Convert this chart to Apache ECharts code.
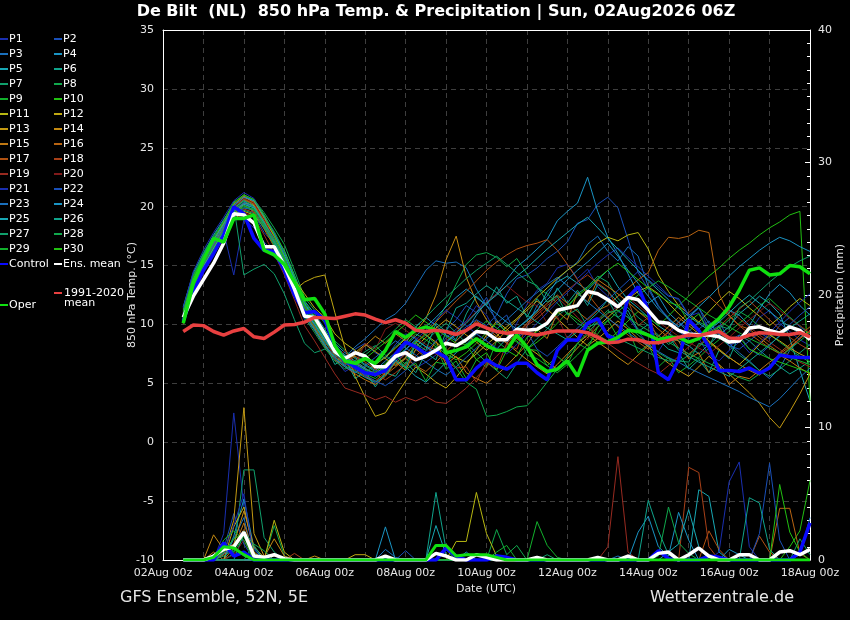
<!DOCTYPE html>
<html><head><meta charset="utf-8">
<script src="https://cdn.jsdelivr.net/npm/echarts@6/dist/echarts.min.js"></script>
<style>html,body{margin:0;padding:0;background:#000;overflow:hidden;width:850px;height:620px;}#c{width:850px;height:620px;}</style>
</head><body><div id="c"></div>
<script>
// Forecast times in hours after 02Aug 00z (6-hourly, 02Aug 12z .. 18Aug 00z)
const HOURS = [12,18,24,30,36,42,48,54,60,66,72,78,84,90,96,102,108,114,120,126,132,138,144,150,156,162,168,174,180,186,192,198,204,210,216,222,228,234,240,246,252,258,264,270,276,282,288,294,300,306,312,318,324,330,336,342,348,354,360,366,372,378,384];
const X_LABELS = ['02Aug 00z','04Aug 00z','06Aug 00z','08Aug 00z','10Aug 00z','12Aug 00z','14Aug 00z','16Aug 00z','18Aug 00z'];
const MEMBER_COLORS = ['#1a2fb0','#1a50b8','#1a70bc','#1a94c4','#18a8b4','#10a48c','#10a06c','#10a84c','#12b02c','#22c012','#b8b812','#c0a812','#c49a12','#c48a12','#c07812','#b86412','#b05212','#a84018','#982a20','#801a1a'];

// ---- 850 hPa temperature (°C) ----
const T_P01 = [10.8,13.9,15.6,16.8,17.9,14.2,18.9, 18.2,17.0,16.1,14.6,12.9,10.4,9.6, 8.3,7.1,6.0,6.5,5.6,5.0,5.8, 6.9,7.5,6.3,6.8,7.4,8.9,9.6, 10.3,11.6,10.8,9.2,8.4,10.1,11.7, 12.9,13.5,14.8,15.1,13.9,14.7,13.2, 12.4,11.1,10.6,9.4,8.3,7.7,9.1, 10.2,9.6,8.8,7.4,6.9,7.8,8.5, 9.3,10.6,11.2,10.1,9.4,8.7,8.2];
const T_P02 = [11.2,14.1,15.9,17.4,18.6,20.1,20.6, 19.4,17.8,16.9,15.2,13.1,10.9,9.8, 8.6,7.3,6.8,7.9,8.4,7.6,7.1, 8.3,9.2,8.8,8.1,7.9,8.6,9.1, 9.8,10.4,9.9,10.8,12.6,13.9,14.2, 14.8,15.6,16.2,17.0,18.6,18.9,20.2, 20.8,19.9,17.2,14.4,13.0,11.5,10.6, 9.4,8.8,9.6,10.3,9.1,8.2,7.9, 8.6,9.3,8.8,9.9,10.6,9.8,9.2];
const T_P03 = [10.4,13.2,15.1,16.6,18.0,19.6,20.4, 20.0,18.6,17.5,15.8,13.8,11.6,10.3, 9.0,7.9,7.2,8.1,8.8,9.6,10.4, 10.9,11.8,13.2,14.6,15.4,15.2,15.3, 14.8,13.0,11.6,10.4,9.2,8.9,9.8, 11.6,12.4,13.8,14.6,15.3,16.8,17.5, 16.2,15.4,16.6,15.8,13.2,11.6,10.4, 9.8,10.6,11.4,10.1,9.2,8.4,7.6, 6.9,6.1,5.4,6.3,7.8,8.9,9.4];
const T_P04 = [11.5,14.4,16.0,17.6,18.9,20.2,20.9, 20.5,19.1,17.8,16.1,14.0,11.8,10.6, 9.3,8.4,7.6,7.2,6.6,6.1,6.9, 7.6,8.4,9.8,10.6,9.9,9.1,8.6, 9.4,10.8,11.9,12.6,13.8,14.9,15.6, 16.4,17.2,18.8,19.6,20.3,22.5,19.6, 17.4,16.0,14.3,12.6,11.8,12.4,11.0, 10.2,9.3,8.9,9.8,10.4,11.2,10.8, 9.9,11.3,12.6,13.4,12.7,11.6,10.8];
const T_P05 = [10.2,12.8,14.8,16.4,17.8,19.2,19.9, 19.7,18.9,17.6,16.3,14.2,12.0,10.9, 9.6,8.2,7.4,6.9,6.3,5.7,6.4, 7.0,6.4,5.6,5.1,5.9,6.8,7.6, 8.3,9.2,8.6,7.9,8.8,9.7,10.3, 11.1,12.8,13.6,14.1,13.5,12.9,13.8, 14.6,13.2,12.1,11.4,10.6,9.9,9.3, 8.6,8.2,7.5,8.3,9.1,9.8,10.9, 11.6,12.4,11.8,10.9,8.8,6.1,3.5];
const T_P06 = [10.9,13.6,15.4,17.0,18.3,19.8,20.6, 20.1,18.3,16.8,15.0,13.2,11.1,9.9, 8.4,6.6,7.1,5.4,6.0,4.7,5.9, 5.6,6.8,5.9,7.6,7.0,9.4,8.7, 10.9,12.4,11.6,13.2,11.8,12.4,10.6, 12.2,11.1,13.1,11.8,12.9,11.6,13.4, 12.8,11.9,10.8,9.6,9.2,8.7,7.9, 7.6,6.2,7.0,5.9,7.8,7.1,9.1, 8.6,7.8,7.1,6.4,5.8,6.3,6.9];
const T_P07 = [10.6,13.3,15.2,16.9,18.4,20.1,14.2, 14.7,15.1,14.3,12.6,10.4,8.4,7.6, 7.9,7.4,6.6,6.9,7.7,8.2,7.4, 6.6,7.1,7.8,8.6,9.4,10.1,9.3, 8.4,7.6,6.8,6.1,5.4,6.7,7.9, 8.8,9.6,10.7,11.4,12.6,13.2,14.1, 13.6,12.2,11.4,10.6,9.9,9.1,8.3, 8.8,9.4,10.2,9.8,8.9,8.2,7.4, 6.8,6.1,5.6,6.2,6.9,7.6,8.3];
const T_P08 = [11.3,14.2,16.1,17.5,18.8,20.4,21.0, 20.6,19.5,18.2,16.8,14.6,12.3,11.2, 10.1,8.6,7.8,7.1,6.5,6.0,6.6, 7.2,7.9,8.5,9.1,10.2,11.6,13.4, 15.1,15.9,16.1,15.7,14.9,15.6,14.3, 13.1,12.6,11.8,10.9,10.1,9.6,10.4, 11.2,10.6,9.8,9.1,8.4,7.6,7.1, 6.8,7.4,8.1,8.9,9.6,10.4,11.1, 10.6,9.8,9.2,8.5,7.9,7.3,6.8];
const T_P09 = [10.0,12.6,14.6,16.2,17.6,19.3,20.2, 19.9,18.8,17.4,15.7,13.6,11.4,10.2, 8.8,7.6,6.9,6.3,5.8,5.4,6.1, 7.4,6.6,8.6,7.2,8.1,6.2,6.9, 5.4,7.0,6.4,8.6,7.9,9.3,7.4, 7.1,6.5,5.9,6.6,7.4,8.3,9.2, 10.4,8.9,9.6,7.6,8.3,6.4,7.2, 5.9,6.5,7.2,8.0,8.7,9.4,10.1, 10.8,11.6,12.2,11.4,10.6,9.9,9.2];
const T_P10 = [10.5,13.1,15.0,16.7,18.1,19.7,20.5, 20.3,19.2,17.9,16.2,14.1,11.9,10.7, 9.4,8.1,7.3,6.8,6.2,5.9,6.7, 7.5,8.3,9.2,8.7,8.1,7.5,7.0, 7.6,8.4,9.3,10.1,9.4,8.6,7.9, 8.5,9.2,10.1,11.0,10.4,9.7,9.1, 8.6,9.4,10.3,11.1,10.6,9.9,10.7, 11.6,12.4,13.3,14.1,14.8,15.6,16.3, 16.9,17.6,18.2,18.7,19.3,19.6,3.5];
const T_P11 = [10.3,12.9,14.9,16.5,17.9,19.5,20.3, 20.1,18.8,17.6,15.8,13.8,12.6,11.4, 10.6,9.2,8.4,7.8,7.1,6.6,7.2, 8.0,8.8,9.6,9.1,8.5,7.8,7.2, 6.8,7.5,8.3,9.0,9.8,10.5,11.4, 12.3,13.1,13.9,14.6,15.2,16.1,16.9, 17.4,17.1,17.6,17.8,16.4,14.2,12.8, 11.6,10.9,10.2,11.1,12.0,12.8,12.2, 11.4,10.7,9.9,10.6,11.5,12.2,11.6];
const T_P12 = [10.1,12.7,14.6,16.1,17.4,18.9,19.6, 19.3,18.2,17.0,14.8,12.9,13.6,14.0, 14.2,11.0,8.0,5.6,3.8,2.2,2.5, 3.9,5.2,6.4,5.8,5.1,4.6,5.5, 6.6,7.8,9.1,10.3,9.6,8.8,8.1, 7.5,6.8,6.2,7.1,8.0,8.9,9.8, 10.6,11.4,12.2,12.8,13.2,12.6,11.8, 10.9,10.1,9.4,8.6,7.9,7.2,6.6, 7.4,8.3,9.1,8.6,8.0,7.5,7.1];
const T_P13 = [11.0,13.8,15.7,17.2,18.6,20.0,20.7, 20.2,18.9,17.2,15.4,13.4,11.3,10.1, 8.9,7.7,7.0,7.6,8.3,7.7,7.1, 6.5,7.2,8.1,8.9,9.7,10.4,9.8, 9.1,8.5,7.8,8.6,9.5,10.4,11.2, 12.0,11.3,10.5,9.7,8.9,8.2,8.8, 9.5,10.3,9.6,8.8,8.1,7.4,6.7, 6.1,5.6,6.4,7.3,6.6,5.8,5.0, 4.2,3.3,2.1,1.2,2.6,4.1,5.8];
const T_P14 = [10.7,13.4,15.3,16.9,18.2,19.9,20.8, 20.4,19.0,17.5,15.6,13.5,11.2,10.0, 8.7,7.6,6.9,7.4,8.2,9.0,8.4, 9.2,8.6,9.4,10.5,12.5,15.5,17.5, 14.0,11.9,10.4,9.2,8.4,7.7,7.0, 6.4,5.8,6.6,7.5,8.4,9.1,8.5, 7.9,7.2,6.6,7.4,8.2,9.0,9.8, 10.6,9.9,9.2,8.5,7.8,7.2,6.6, 6.1,5.7,6.4,7.2,8.0,8.8,9.5];
const T_P15 = [10.9,13.7,15.5,17.1,18.5,20.2,20.9, 20.3,18.5,16.9,15.1,13.3,11.0,9.7, 8.2,7.0,6.4,5.8,5.3,4.9,5.6, 6.8,6.1,7.9,7.2,8.6,6.6,7.3, 5.9,5.4,5.0,5.7,6.5,7.4,8.3, 9.6,8.8,11.1,10.4,12.7,11.9,13.8, 13.2,12.6,11.9,11.1,10.4,9.6,8.9, 8.6,7.1,7.6,5.9,6.6,4.9,5.6, 5.4,6.1,6.8,7.4,6.9,6.3,5.8];
const T_P16 = [10.4,13.0,14.9,16.4,17.8,19.4,20.1, 19.6,18.1,16.6,14.9,12.9,10.8,9.5, 8.1,7.2,6.7,7.3,6.8,6.2,5.7, 6.4,7.1,6.5,6.0,6.8,7.7,8.6, 9.5,10.3,9.7,9.0,8.4,9.2,10.1, 11.0,11.8,12.5,11.8,11.1,10.4,11.2, 11.6,12.4,13.1,13.8,14.4,16.3,17.4, 17.3,17.5,18.0,17.8,12.6,10.8,9.9, 9.6,8.9,8.2,7.6,8.3,9.1,9.8];
const T_P17 = [10.6,13.2,15.1,16.7,18.1,19.8,20.6, 20.2,18.7,17.1,15.3,13.2,11.0,9.8, 8.5,7.4,6.7,6.1,5.6,5.2,5.9, 6.7,7.5,8.4,9.3,10.2,11.1,12.0, 12.8,13.7,14.6,15.3,15.9,16.4,16.7, 16.9,17.2,16.3,15.1,13.8,12.6,11.5, 10.6,9.8,9.1,8.5,7.9,8.6,9.4, 10.2,11.0,11.8,12.4,11.6,10.7,9.9, 9.2,8.6,8.0,7.5,8.1,8.8,9.4];
const T_P18 = [10.2,12.8,14.7,16.3,17.6,19.1,19.8, 19.5,18.4,17.1,15.5,13.6,11.5,10.4, 9.2,8.0,7.3,6.8,6.2,5.8,5.3, 5.9,6.6,7.3,8.1,7.5,6.9,6.3, 6.4,5.1,6.8,6.2,8.4,7.9,9.9, 10.5,11.3,12.1,12.9,13.6,14.2,13.5, 12.9,11.4,12.0,9.9,10.6,8.7,9.3, 8.0,7.5,8.2,9.0,9.8,10.6,11.3, 12.0,11.2,10.4,9.6,8.9,8.3,7.8];
const T_P19 = [10.0,12.5,14.4,15.9,17.3,18.8,19.5, 19.1,17.6,16.0,14.2,12.1,9.9,8.6, 7.2,5.8,4.6,4.3,4.0,3.6,3.9, 3.4,3.8,3.5,3.9,3.4,3.3,3.9, 4.6,5.5,6.4,7.3,8.2,9.1,10.0, 10.8,11.6,12.3,11.5,10.6,9.8,9.1, 8.4,7.8,7.2,6.7,6.2,5.8,6.5, 7.3,8.1,8.9,9.7,10.5,11.2,10.5, 9.8,9.1,8.5,7.9,7.3,6.8,6.4];
const T_P20 = [10.8,13.5,15.4,17.0,18.4,20.0,20.7, 20.3,18.9,17.3,15.4,13.3,11.1,9.9, 8.9,7.0,7.8,6.6,8.4,7.9,9.6, 10.1,9.5,8.9,8.3,7.8,8.6,9.4, 10.2,11.1,11.9,12.6,13.3,12.6,11.9, 11.6,10.1,10.7,8.8,9.6,8.7,10.4, 10.9,11.6,12.3,11.6,10.9,10.2,9.6, 9.0,8.5,8.0,7.5,8.2,8.9,9.7, 10.4,11.1,11.8,11.2,10.5,9.9,9.3];
const T_P21 = [11.4,14.5,16.3,17.8,19.1,20.5,21.2, 20.7,19.3,17.8,15.9,13.7,11.4,10.1, 8.8,7.9,6.5,6.9,5.6,6.1,5.9, 7.0,7.8,8.7,9.5,10.4,11.2,10.6, 9.9,9.2,8.6,8.0,7.5,8.3,9.2, 10.1,11.0,11.9,12.7,13.6,14.4,15.2, 15.9,16.5,15.7,14.9,14.1,13.3,12.5, 12.1,10.7,11.0,9.4,9.9,8.2,8.6, 7.6,8.4,9.3,10.2,11.1,11.9,12.6];
const T_P22 = [10.3,12.9,14.8,16.3,17.7,19.2,19.9, 19.8,18.6,17.3,15.6,13.5,11.3,10.0, 8.7,7.5,6.8,6.2,5.7,5.2,4.8, 5.4,6.1,6.9,7.7,8.6,9.5,10.4, 11.6,11.0,12.3,10.1,10.8,8.9,9.4, 7.9,7.3,8.1,8.9,9.7,10.5,11.3, 12.1,12.9,13.7,14.5,13.8,13.1,12.4, 12.2,10.8,11.4,9.6,10.3,8.6,9.1, 7.9,7.4,8.2,9.1,10.0,10.8,11.5];
const T_P23 = [10.7,13.4,15.3,16.8,18.2,19.7,20.3, 20.0,18.4,16.9,15.1,13.0,10.8,9.5, 8.2,7.1,6.4,5.9,6.5,7.2,7.9, 8.6,8.0,7.4,6.8,6.2,5.7,6.4, 7.2,8.0,8.8,9.6,10.4,11.2,12.0, 12.7,13.4,14.0,13.3,12.6,11.9,11.2, 10.5,9.9,9.3,8.7,8.2,7.7,7.2, 6.8,6.3,5.9,5.5,5.1,4.7,4.3, 3.8,3.4,3.0,3.7,4.6,5.5,6.3];
const T_P24 = [10.9,13.7,15.6,17.2,18.5,20.1,20.8, 20.5,19.2,17.7,15.9,13.9,11.7,10.5, 9.2,8.0,7.3,6.7,6.2,5.8,6.5, 7.3,8.2,9.0,9.8,10.6,11.5,12.3, 13.0,12.3,11.6,10.9,10.2,9.6,10.4, 11.2,12.1,12.9,13.8,14.6,15.3,16.1, 16.9,15.8,14.6,13.5,12.4,11.3,10.5, 9.8,10.6,11.5,12.3,13.2,14.1,14.9, 15.6,16.3,16.9,17.4,17.1,16.6,16.2];
const T_P25 = [10.5,13.0,14.9,16.5,17.9,19.5,20.2, 19.9,18.6,17.2,15.4,13.4,11.2,10.0, 8.7,7.6,7.0,6.5,6.0,5.6,6.3, 7.1,7.9,8.7,8.1,7.6,8.4,9.3, 10.1,11.0,11.8,12.5,13.3,14.1,14.8, 15.6,16.4,17.1,17.8,18.5,19.1,18.2, 17.3,16.4,15.5,14.6,13.7,12.9,12.1, 11.4,10.7,10.1,9.5,10.2,11.0,11.8, 12.5,11.8,11.1,10.4,9.8,9.2,8.7];
const T_P26 = [10.8,13.5,15.4,17.0,18.4,19.9,20.5, 20.0,18.7,17.1,15.2,13.1,10.9,9.6, 8.3,7.2,6.5,6.0,5.5,5.1,5.7, 6.9,6.3,8.4,7.8,10.1,9.4,11.4, 11.8,12.6,13.3,12.7,12.0,11.4,10.8, 10.2,9.7,9.2,8.7,9.4,10.2,11.0, 12.1,10.6,11.2,9.4,10.0,8.3,9.0, 7.8,7.3,6.8,6.4,6.0,5.6,6.2, 6.9,7.6,8.3,9.0,9.7,10.3,10.9];
const T_P27 = [10.1,12.6,14.5,16.1,17.5,19.0,19.7, 19.4,18.2,16.9,15.3,13.3,11.1,9.9, 8.6,7.5,6.9,6.4,5.9,6.6,7.3, 8.1,8.9,9.8,10.6,11.5,12.3,13.1, 13.9,14.6,15.2,15.8,15.1,14.4,13.7, 13.3,11.9,12.4,10.8,11.3,9.8,10.1, 9.2,8.8,8.4,8.0,7.6,7.2,6.9, 6.9,6.8,8.4,8.1,9.9,9.6,11.4, 12.0,12.8,13.6,14.3,14.9,15.4,15.8];
const T_P28 = [10.6,13.2,15.1,16.6,18.0,19.5,20.1, 19.7,18.3,16.7,14.9,12.8,10.6,9.3, 8.0,6.9,6.2,6.7,7.4,8.1,8.8, 9.6,10.4,9.8,9.1,8.3,7.4,6.3, 5.1,4.5,2.2,2.3,2.6,3.0,3.1, 4.0,5.1,6.2,7.3,8.4,9.3,10.2, 11.0,11.2,10.6,10.0,9.5,9.0,8.5, 8.0,7.5,7.1,6.7,6.3,5.9,5.5, 5.2,5.8,6.5,7.2,7.9,8.6,9.3];
const T_P29 = [10.3,12.8,14.7,16.3,17.7,19.3,20.0, 19.8,18.5,17.2,15.6,13.7,11.6,10.4, 9.1,7.9,7.2,6.6,6.1,5.7,6.4, 7.6,6.2,6.7,5.2,6.8,6.6,8.3, 8.7,9.5,10.3,9.7,9.1,8.5,7.9, 7.8,6.5,7.3,6.6,8.4,7.9,9.8, 10.3,11.1,11.8,12.5,13.1,13.7,13.2, 12.6,12.0,11.4,10.8,10.3,9.8,9.3, 8.8,8.4,8.0,7.6,7.2,6.9,6.6];
const T_P30 = [11.1,14.0,15.8,17.3,18.7,20.3,21.0, 20.6,19.3,17.6,15.7,13.6,11.4,10.2, 8.9,7.7,7.0,6.5,7.1,7.8,8.5, 9.3,10.0,10.8,10.2,9.6,9.0,8.4, 8.3,7.0,7.6,6.1,7.8,7.3,8.9, 9.4,10.1,10.9,11.6,12.4,13.1,13.9, 14.6,15.2,14.5,13.8,13.1,12.5,11.9, 11.6,10.2,10.9,9.3,9.8,8.4,8.9, 7.9,7.5,7.1,6.8,6.5,6.2,5.9];
const T_CONTROL = [10.3,12.8,14.6,16.0,17.6,20.0,19.4, 17.3,16.3,16.2,14.6,12.5,11.0,11.1, 10.4,8.1,7.0,6.4,5.9,5.75,6.1, 7.5,8.5,8.1,7.5,7.7,7.2,5.3, 5.3,6.3,7.0,6.5,6.2,6.7,6.7, 5.9,5.3,7.8,8.7,8.65,10.1,10.5, 9.0,8.7,12.3,13.2,11.2,5.9,5.3, 7.0,10.4,9.5,8.1,6.1,6.1,6.0, 6.3,5.85,6.3,7.4,7.25,7.2,7.2];
const T_OPER = [10.1,13.5,15.5,17.3,17.0,19.0,19.0, 19.3,16.3,15.9,15.1,13.6,12.1,12.2, 10.9,8.2,6.9,6.7,7.1,6.7,7.8, 9.4,8.9,9.5,9.8,9.5,7.6,7.8, 8.1,8.8,8.2,7.8,7.8,9.1,8.1, 6.6,6.0,6.2,6.9,5.6,7.8,8.4, 8.5,8.9,9.5,9.4,9.1,8.7,8.9, 8.9,8.5,8.8,9.8,10.5,11.5,12.9, 14.6,14.8,14.2,14.3,15.0,14.9,14.3];
const T_MEAN = [10.6,12.4,13.8,15.2,16.9,19.4,19.3, 18.6,16.6,16.6,15.0,13.0,10.7,10.6, 9.2,7.7,7.1,7.6,7.3,6.4,6.4, 7.3,7.6,7.0,7.3,7.8,8.4,8.2, 8.7,9.4,9.3,8.7,8.7,9.6,9.5, 9.6,10.1,11.2,11.4,11.6,12.8,12.6, 12.1,11.5,12.3,12.1,11.2,10.2,10.1, 9.5,9.2,9.1,9.1,8.95,8.5,8.6, 9.7,9.8,9.5,9.25,9.8,9.5,8.7];
const T_CLIM = [9.4,9.95,9.9,9.4,9.1,9.45,9.65, 8.95,8.8,9.35,9.95,10.0,10.2,10.6, 10.55,10.5,10.7,10.9,10.8,10.45,10.15, 10.4,10.1,9.5,9.4,9.5,9.4,9.15, 9.5,10.05,9.7,9.4,9.25,9.35,9.25, 9.1,9.3,9.45,9.45,9.45,9.3,8.9, 8.45,8.5,8.75,8.7,8.45,8.45,8.65, 8.9,9.1,9.05,9.25,9.4,8.85,8.8, 9.1,9.3,9.25,9.15,9.15,9.3,8.95];

// ---- 6-hourly precipitation (mm) ----
const R_P01 = [0,0,0,0,2.0,11.1,4.0, 0.8,0,0,0,0,0,0, 0,0,0,0,0,0,0, 0,0,0,0,0,0,0, 0,0,0,0,0,0,0, 0,0,0,0,0,0,0, 0,0,0,0,0,0,0, 0,0,0,0,0,0,0, 0,0,0,0,0,0,0];
const R_P02 = [0,0,0,0,0.8,3.5,1.2, 0,0,0,0,0,0,0, 0,0,0,0,0,0,0, 0,0.7,0,0,0,0,0, 0,0,0,0,0,0,0, 0,0,0,0,0,0,0, 0,0,0,0,0,0,0, 0,0,0,0,0,0,0, 0,0,0,0,0,0,0];
const R_P03 = [0,0,0,0,0,1.6,3.2, 0,0,0,0,0,0,0, 0,0,0,0,0,0,0.8, 0.2,0,0,0,0,0,0, 0,0,0,0,0,0,0, 0,0,0,0,0,0,0, 0,0.3,0,0,0,0,0, 0,0,0,0,0,0,0, 0,0,0,0,0,0,0];
const R_P04 = [0,0,0,0,0,1.8,4.6, 0.9,0,0,0,0,0,0, 0,0,0,0,0,0,2.5, 0,0,0,0,0,0,0, 0.6,0,0,0,0,0,0, 0,0,0,0,0,0,0, 0,0,0,0,0,0,0, 0,0,0,0,0,0.8,0.4, 0,0,0,0,0,0,0];
const R_P05 = [0,0,0,0,0,0,0, 0,0,0,0,0,0,0, 0,0,0,0,0,0,0, 0,0,0,0,2.6,0.4,0, 0,0,0,0,0,0,0, 0,0,0,0,0,0,0, 0,0,0,0,0,0,0, 0,0,5.3,4.8,0.6,0,0, 0,0,0,0,0,0,0];
const R_P06 = [0,0,0,0,0,0,2.0, 0.5,0,0,0,0,0,0, 0,0,0,0,0,0,0, 0,0,0,0,5.1,0.8,0, 0,0,0,0,0,0,0, 0,0,0,0,0,0,0, 0,0,0,0,0,0,0, 0,0,0,0,0,0,0, 0,0,0,0,0,0,0];
const R_P07 = [0,0,0,0,0,0.5,6.8, 6.8,1.7,0.6,0,0,0,0, 0,0,0,0,0,0,0, 0,0,0,0,0,0,0, 0,0,0,0,0,0,0, 0,0,0,0,0,0,0, 0,0,0,0,0,0,0, 0,0,0,0,0,0,0, 0,0,0,0,0,0,0];
const R_P08 = [0,0,0,0,0,0,0, 0,0,2.6,0.3,0,0,0, 0,0,0,0,0,0,0, 0,0,0,0,0,0,0, 0,0,0,2.3,0.4,1.1,0, 0,0,0,0,0,0,0, 0,0,0,0,0,0,0, 0,0,0,0,0,0,0, 0,0,0,0,0,0,0];
const R_P09 = [0,0,0,0,1.0,0.6,1.8, 0,0,0,0,0,0,0, 0,0,0,0,0,0,0, 0,0,0,0,0,0,0, 0,0,0,0,0,0,0, 2.9,1.1,0.2,0,0,0,0, 0,0,0,0,0,0,0, 0,0,0,0,0,0,0, 0,0,0,0,0,0,0];
const R_P10 = [0,0,0,0,0,0,0, 0,0,0,0,0,0,0, 0,0,0,0,0,0,0, 0,0,0,0,0,0,0, 0,0,0,0,0,0,0, 0,0,0,0,0,0,0, 0,0,0,0,0,0,0, 0,0,0,0,0,0,0, 0,0,0,0,1.0,2.2,6.0];
const R_P11 = [0,0,0,0,0,0,0, 0,0,3.0,0.6,0,0,0, 0,0,0,0,0,0,0, 0,0,0,0,0,0,1.4, 1.4,5.1,2.0,0.3,0,0,0, 0,0,0,0,0,0,0, 0,0,0,0,0,0,0, 0,0,0,0,0,0,0, 0,0,0,0,0,0,0];
const R_P12 = [0,0,0,0,0,2.5,4.0, 0.6,0,0,0,0,0,0, 0,0,0,0.4,0.4,0,0, 0,0,0,0,0,0,0, 0,0,0,0,0,0,0, 0,0,0,0,0,0,0, 0,0,0,0,0,0,0, 0,0,0,0,0,0,0, 0,0,0,0,0,0,0];
const R_P13 = [0,0,0,0,0.4,3.0,11.5, 2.0,0.3,0,0,0,0,0, 0,0,0,0,0,0,0, 0,0,0,0,0,0,0, 0,0,0,0,0,0,0, 0,0,0,0,0,0,0, 0,0,0,0,0,0,0, 0,0,0,0,0,0,0, 0,0,0,0,0,0,0];
const R_P14 = [0,0,0,1.9,0.8,1.2,3.7, 1.0,0.2,1.6,0.3,0,0,0.3, 0,0,0,0,0,0,0, 0,0,0,0,0,0,0, 0,0,0,0,0,0,0, 0,0,0,0,0,0,0, 0,0,0,0,0,0,0, 0,0,0,0,0,0,0, 0,0,0,0,0,0,0];
const R_P15 = [0,0,0,0.6,0,0.9,2.8, 0.4,0,0,0,0,0,0, 0,0,0,0,0,0,0, 0,0,0,0,0,0,0, 0,0,0,0,0,0,0, 0,0,0,0,0,0,0, 0,0,0,0,0,0,0, 0,0,0,0,0,0,0, 0,0,0,0,0,0,0];
const R_P16 = [0,0,0,0,0.5,1.0,2.3, 0,0,0,0,0,0,0, 0,0,0,0,0,0,0, 0,0,0,0,0,0,0, 0,0,0,0,0,0,0, 0,0,0,0,0,0,0, 0,0,0,0,0,0,0, 0,0,0,0,0,0,0, 0,0,0,3.9,3.9,0.5,0];
const R_P17 = [0,0,0,0,0,0,0, 0,0,0,0,0,0,0, 0,0,0,0,0,0,0, 0,0,0,0,0,0,0, 0,0,0,0,0,0,0, 0,0,0,0,0,0,0, 0,0,0,0,0,0,0, 0,0,0,2.2,0.8,0,0, 0,1.8,0.6,0,0,0,0];
const R_P18 = [0,0,0,0,0,0,0, 0,0,0,0,0.5,0,0, 0,0,0,0,0,0,0, 0,0,0,0,0,0,0, 0,0,0,0,0,0,0, 0,0,0,0,0,0,0, 0,0,0,0,0,0,0, 0,7.0,6.6,1.0,0,0,0, 0,0,0,0,0,0,0];
const R_P19 = [0,0,0,0,0,0,0, 0,0,0,0,0,0,0, 0,0,0,0,0,0,0, 0,0,0,0,0,0,0, 0,0,0,0,0,0,0, 0,0,0,0,0,0,0, 1.0,7.8,0.6,0,0,0,0, 0,0,0,0,0,0,0, 0,0,0,0,0,0,0];
const R_P20 = [0,0,0,0,0,0.4,1.5, 0,0,0,0,0,0,0, 0,0,0,0,0,0,0, 0,0,0,0,0,0,0, 0,0,0,0,0,0,0, 0,0,0,0,0,0,0, 0,0,0.4,0,0,0,0, 0,0,0,0,0,0,0, 0,0,0,0,0,0,0];
const R_P21 = [0,0,0,0,0.6,2.6,5.0, 0,0,0,0,0,0,0, 0,0,0,0,0,0,0, 0,0,0,0,0,0,0, 0,0,0,0,0,0,0, 0,0,0,0,0,0,0, 0,0,0,0,0,0,0, 0,0,0,0,0.6,5.9,7.4, 1.0,0,0,0,0,0,0];
const R_P22 = [0,0,0,0,0,0,0, 0,0,0,0,0,0,0, 0,0,0,0,0,0,0, 0,0,0,0,0,0,0, 0,0,0,0,0,0,0, 0,0,0,0,0,0,0, 0,0,0,0,0,0,0, 0,0,0,0,0,0,0, 0,2.0,7.3,1.5,0,0,0];
const R_P23 = [0,0,0,0,0.5,1.0,0.3, 0,0,0,0,0,0,0, 0,0,0,0,0,0,0, 0,0,0,0,0,0,0, 0,0,0,0,0,0,0, 0,0,0,0,0,0,0, 0,0,0,0,0,0,0, 0,0,0,0,0,0,0, 0,0,0,0,0,0.4,3.2];
const R_P24 = [0,0,0,0,0,0,0, 0,0,0,0,0,0,0, 0,0,0,0,0,0,0, 0,0,0,0,0,0,0, 0,0,0,0.4,0,0,0, 0,0,0,0,0,0,0, 0,0,0,2.1,3.3,1.0,0.3, 3.6,1.5,0,0,0,0,0, 0,0,0,0,0,0,0];
const R_P25 = [0,0,0,0,0,0,0, 0,0,0,0,0,0,0, 0,0,0,0,0,0,0, 0,0,0,0,0,0,0, 0,0,0,0,0,0,0, 0,0,0,0,0,0,0, 0,0,0,0,0,0,0.6, 1.2,3.8,1.0,0,0,0,0, 0,0,0,0,0,0,0];
const R_P26 = [0,0,0,0,0,0,0, 0,0,0,0,0,0,0, 0,0,0,0,0,0,0, 0,0,0,0,0,0,0, 0,0,0,0,0,0,0, 0,0,0,0,0,0,0, 0,0,0,0,4.5,2.2,0.4, 0,0,0,0,0,0,0, 4.7,4.3,0.8,0,0,0,0];
const R_P27 = [0,0,0,0,0.3,0.8,2.2, 1.1,0,0,0,0,0,0, 0,0,0,0,0,0,0, 0,0,0,0,0,0,0, 0,0,0,0,0,0,0, 0,0.4,0,0,0,0,0, 0,0,0,0,0,0,0, 0,0,0,0,0,0,0, 0,0,0,0,0,1.6,0.4];
const R_P28 = [0,0,0,0,0,0,0, 1.2,0.7,0,0,0,0,0, 0,0,0,0,0,0,0, 0,0,0,0,0,0,0, 0,0,0,0,0,0,0, 0,0,0,0,0,0,0, 0,0,0,0,0,0.3,4.0, 1.3,0.5,0,0,0,0,0, 0,0,0,0,0,0,0];
const R_P29 = [0,0,0,0,1.5,2.2,1.5, 0,0,0,0,0,0,0, 0,0,0,0,0,0,0, 0,0,0,0,0,0,0, 0,0,0,0.6,1.1,0,0, 0,0,0,0,0,0,0, 0,0,0,0,0,0,0, 0,0,0,0,0,0,0, 0,0,0,0,0,0,0];
const R_P30 = [0,0,0,0,0.6,1.6,2.0, 0,0,0,0,0,0,0, 0,0,0,0,0,0,0, 0,0,0,0,0,0,0, 0,0,0,0,0,0,0, 0,0,0,0,0,0,0, 0,0,0,0,0,0,0, 0,0,0,0,0,0,0, 0,0,0,5.7,2.1,0.6,0];
const R_CONTROL = [0,0,0,0,1.3,0.3,0.6, 0,0,0,0,0,0,0, 0,0,0,0,0,0,0, 0,0,0,0,0,0.9,0.3, 0,0,0,0.3,0.2,0,0, 0,0,0,0,0,0,0, 0,0,0,0,0,0.7,0.1, 0,0,0,0.3,0.2,0,0, 0,0,0,0,0,0.6,2.8];
const R_OPER = [0,0,0,0.2,1.0,0.9,0.4, 0,0,0,0,0,0,0, 0,0,0,0,0,0,0, 0,0,0,0,1.1,1.1,0.3, 0.4,0.4,0.4,0.2,0,0,0, 0,0,0,0,0,0,0, 0,0,0,0,0,0,0, 0,0,0,0,0,0,0, 0,0,0,0,0,0,0];
const R_MEAN = [0,0,0,0.3,0.8,1.0,2.1, 0.3,0.2,0.4,0.1,0,0,0, 0,0,0,0,0,0,0.3, 0,0,0,0,0.5,0.3,0, 0,0.4,0.2,0,0,0,0, 0.2,0,0,0,0,0,0.2, 0,0,0.3,0,0,0.5,0.6, 0,0.4,0.9,0.3,0,0,0.4, 0.4,0,0,0.6,0.7,0.4,0.8];

const TEMP_MEMBERS = [T_P01,T_P02,T_P03,T_P04,T_P05,T_P06,T_P07,T_P08,T_P09,T_P10,T_P11,T_P12,T_P13,T_P14,T_P15,T_P16,T_P17,T_P18,T_P19,T_P20,T_P21,T_P22,T_P23,T_P24,T_P25,T_P26,T_P27,T_P28,T_P29,T_P30];
const RAIN_MEMBERS = [R_P01,R_P02,R_P03,R_P04,R_P05,R_P06,R_P07,R_P08,R_P09,R_P10,R_P11,R_P12,R_P13,R_P14,R_P15,R_P16,R_P17,R_P18,R_P19,R_P20,R_P21,R_P22,R_P23,R_P24,R_P25,R_P26,R_P27,R_P28,R_P29,R_P30];

const FONT = 'DejaVu Sans';
function pts(arr){ return HOURS.map((h,i)=>[h,arr[i]]); }
function line(name, arr, axis, color, width, z){
  return {name:name, type:'line', yAxisIndex:axis, data:pts(arr), symbol:'none', silent:true,
    lineStyle:{color:color, width:width}, z:z, animation:false};
}

const series = [];
RAIN_MEMBERS.forEach((r,k)=>series.push(line('P'+(k+1)+' rain', r, 1, MEMBER_COLORS[k%20], 1, 2)));
TEMP_MEMBERS.forEach((t,k)=>series.push(line('P'+(k+1), t, 0, MEMBER_COLORS[k%20], 1, 3)));
series.push(line('Control rain', R_CONTROL, 1, '#0a0aff', 3.5, 4));
series.push(line('Ens. mean rain', R_MEAN, 1, '#ffffff', 3.5, 5));
series.push(line('Oper rain', R_OPER, 1, '#10e010', 3, 6));
series.push(line('Control', T_CONTROL, 0, '#0a0aff', 3.5, 7));
series.push(line('Ens. mean', T_MEAN, 0, '#ffffff', 3.5, 8));
series.push(line('Oper', T_OPER, 0, '#10e010', 3.5, 9));
series.push(line('1991-2020 mean', T_CLIM, 0, '#e84040', 3.5, 10));

// legend, axis titles, title and footers drawn as graphics
const graphics = [];
function txt(x, y, s, opts){
  const o = Object.assign({fill:'#ffffff', font:'11px '+FONT, align:'left', verticalAlign:'middle'}, opts||{});
  o.text = s;
  return {type:'text', silent:true, x:x, y:y, style:o};
}
function legItem(x, y, label, color){
  graphics.push({type:'line', silent:true, shape:{x1:x, y1:y, x2:x+8, y2:y}, style:{stroke:color, lineWidth:2}});
  graphics.push(txt(x+9, y, label));
}
for (let k=0;k<15;k++){
  const y = 39 + 15*k;
  legItem(0, y, 'P'+(2*k+1), MEMBER_COLORS[(2*k)%20]);
  legItem(54, y, 'P'+(2*k+2), MEMBER_COLORS[(2*k+1)%20]);
}
legItem(0, 264, 'Control', '#0a0aff');
legItem(54, 264, 'Ens. mean', '#ffffff');
graphics.push({type:'line', silent:true, shape:{x1:54,y1:293,x2:62,y2:293}, style:{stroke:'#e84040', lineWidth:2}});
graphics.push(txt(64, 293, '1991-2020'));
graphics.push(txt(64, 303, 'mean'));
legItem(0, 305, 'Oper', '#10e010');
graphics.push(txt(436, 12, 'De Bilt  (NL)  850 hPa Temp. & Precipitation | Sun, 02Aug2026 06Z', {font:'bold 16px '+FONT, align:'center'}));
graphics.push(txt(120, 598, 'GFS Ensemble, 52N, 5E', {fill:'#e6e6e6', font:'16px '+FONT}));
graphics.push(txt(794, 598, 'Wetterzentrale.de', {fill:'#e6e6e6', font:'16px '+FONT, align:'right'}));
graphics.push(Object.assign(txt(132, 295, '850 hPa Temp. (°C)', {fill:'#e6e6e6', align:'center'}), {rotation:Math.PI/2}));
graphics.push(Object.assign(txt(840, 295, 'Precipitation (mm)', {fill:'#e6e6e6', align:'center'}), {rotation:Math.PI/2}));
graphics.push(txt(486, 589, 'Date (UTC)', {fill:'#e6e6e6', align:'center'}));

const chart = echarts.init(document.getElementById('c'), null, {renderer:'canvas', width:850, height:620});
chart.setOption({
  backgroundColor:'#000000',
  animation:false,
  textStyle:{fontFamily:FONT},
  grid:{left:163, right:40, top:30, bottom:60, containLabel:false},
  xAxis:[{
    type:'value', min:0, max:384, interval:24, position:'bottom',
    axisLine:{show:true, onZero:false, lineStyle:{color:'#ffffff', width:1}},
    axisTick:{show:false},
    axisLabel:{color:'#e6e6e6', fontSize:11, fontFamily:FONT, margin:8,
      formatter:function(v){ return v%48===0 ? X_LABELS[v/48] : ''; }},
    splitLine:{show:true, lineStyle:{color:'#3e3e3e', type:[5,4], width:1}}
  },{
    type:'value', min:0, max:384, position:'top',
    axisLine:{show:true, onZero:false, lineStyle:{color:'#ffffff', width:1}},
    axisTick:{show:false}, axisLabel:{show:false}, splitLine:{show:false}
  }],
  yAxis:[{
    type:'value', min:-10, max:35, interval:5, position:'left',
    axisLine:{show:true, onZero:false, lineStyle:{color:'#ffffff', width:1}},
    axisTick:{show:false}, minorTick:{show:false},
    axisLabel:{color:'#e6e6e6', fontSize:11, fontFamily:FONT, margin:9},
    splitLine:{show:true, lineStyle:{color:'#3e3e3e', type:[5,4], width:1}}
  },{
    type:'value', min:0, max:40, interval:10, position:'right',
    axisLine:{show:true, onZero:false, lineStyle:{color:'#ffffff', width:1}},
    axisTick:{show:true, inside:true, length:5, lineStyle:{color:'#ffffff'}},
    minorTick:{show:true, splitNumber:10, length:3, lineStyle:{color:'#ffffff'}},
    axisLabel:{color:'#e6e6e6', fontSize:11, fontFamily:FONT, margin:8},
    splitLine:{show:false}
  }],
  graphic:graphics,
  series:series
});
</script>
</body></html>
